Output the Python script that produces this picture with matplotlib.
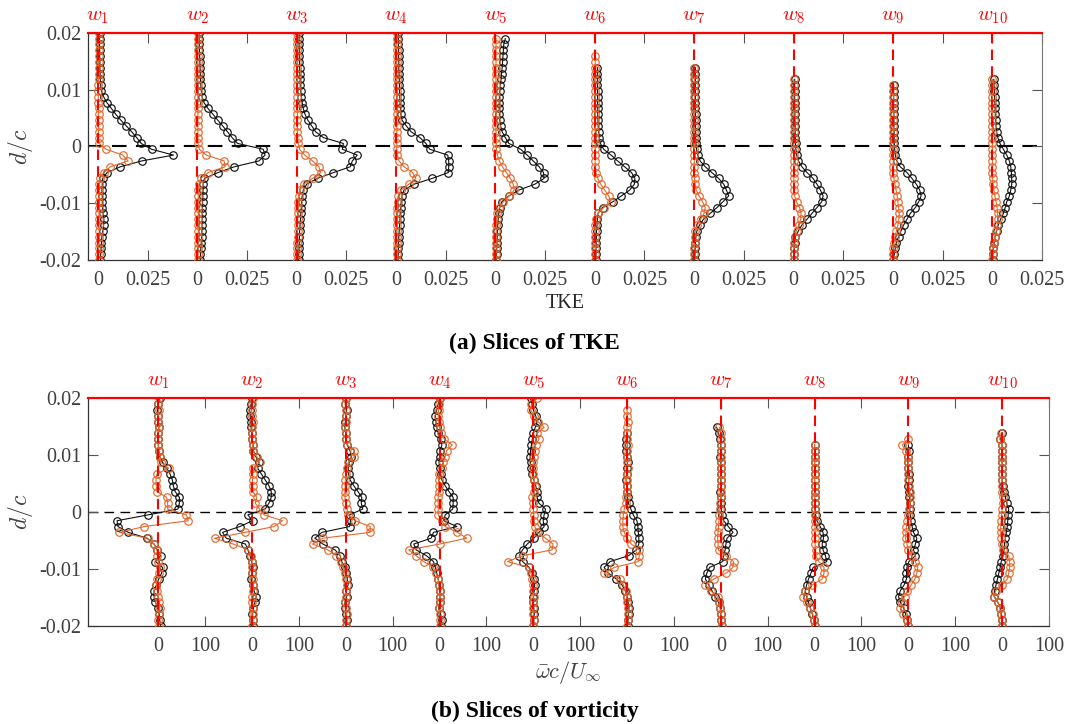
import numpy as np
import matplotlib
matplotlib.use("Agg")
import matplotlib.pyplot as plt

plt.rcParams['font.family'] = ['Liberation Serif', 'DejaVu Serif']
plt.rcParams['mathtext.fontset'] = 'cm'

# wall-normal sampling positions d/c (same grid for every slice, bottom -> top)
d_grid = np.linspace(-0.02, 0.02, 40)

station_labels = [r'$w_{%d}$' % i for i in range(1, 11)]

# TKE profiles, in units of 1e-3, listed from d/c = -0.02 upwards
tke_black = [
    [1.3, 1.4, 1.6, 1.8, 2.0, 2.4, 2.9, 3.0, 2.6, 2.3,
     2.2, 2.2, 2.0, 2.2, 2.4, 4.6, 11.3, 22.0, 38.0, 27.0,
     21.8, 19.5, 17.0, 14.3, 11.5, 9.0, 6.8, 4.5, 2.9, 1.8,
     1.4, 1.2, 1.1, 1.0, 1.0, 0.9, 0.9, 0.8, 0.8, 0.8],
    [1.5, 1.6, 1.8, 2.0, 2.2, 2.3, 2.4, 2.5, 2.5, 2.6,
     2.7, 2.8, 2.9, 3.0, 3.6, 10.4, 18.7, 31.0, 34.1, 33.2,
     20.3, 17.5, 15.2, 12.8, 10.3, 7.9, 5.4, 3.4, 2.4, 2.0,
     1.8, 1.6, 1.5, 1.4, 1.3, 1.2, 1.1, 1.0, 0.9, 0.9],
    [1.0, 1.1, 1.2, 1.3, 1.4, 1.5, 1.7, 1.9, 2.1, 2.3,
     2.5, 2.8, 3.3, 5.0, 10.5, 18.5, 27.0, 28.0, 30.5, 23.0,
     23.5, 13.5, 9.5, 7.6, 5.6, 4.2, 3.3, 2.8, 2.4, 2.0,
     1.8, 1.7, 1.6, 1.5, 1.4, 1.3, 1.3, 1.2, 1.2, 1.2],
    [1.0, 1.1, 1.2, 1.3, 1.4, 1.6, 1.8, 2.0, 2.1, 2.3,
     2.6, 3.0, 4.0, 9.0, 18.2, 26.3, 26.5, 26.5, 26.0, 17.0,
     15.0, 12.0, 7.6, 5.2, 3.0, 2.4, 2.2, 2.0, 1.9, 1.8,
     1.7, 1.6, 1.5, 1.4, 1.4, 1.3, 1.3, 1.2, 1.2, 1.2],
    [0.5, 0.6, 0.7, 0.8, 0.9, 1.0, 1.2, 1.4, 1.7, 2.2,
     3.2, 6.8, 11.8, 19.8, 24.5, 24.2, 22.0, 19.0, 16.0, 12.7,
     6.8, 5.0, 3.4, 2.6, 2.2, 2.0, 1.9, 1.9, 2.0, 2.2,
     2.5, 2.8, 3.1, 3.4, 3.6, 3.8, 4.0, 4.2, 5.0],
    [0.5, 0.6, 0.6, 0.7, 0.8, 0.9, 1.1, 1.3, 1.6, 3.9,
     9.1, 13.4, 17.6, 19.9, 20.2, 18.5, 15.0, 11.5, 8.2, 4.5,
     2.8, 2.2, 1.9, 1.7, 1.6, 1.5, 1.5, 1.4, 1.4, 1.4,
     1.3, 1.3, 1.3, 1.3],
    [0.3, 0.4, 0.5, 0.6, 0.9, 1.4, 2.7, 4.7, 8.1, 11.5,
     14.5, 17.4, 16.2, 14.9, 12.3, 8.9, 5.6, 3.0, 1.8, 1.2,
     0.9, 0.8, 0.8, 0.7, 0.7, 0.7, 0.6, 0.6, 0.6, 0.6,
     0.6, 0.6, 0.6, 0.6],
    [0.3, 0.3, 0.4, 0.6, 0.9, 2.5, 4.2, 6.8, 9.3, 11.8,
     14.2, 14.9, 13.5, 11.8, 9.8, 6.8, 4.2, 2.5, 1.6, 1.2,
     1.0, 0.9, 0.8, 0.8, 0.7, 0.7, 0.7, 0.6, 0.6, 0.6,
     0.6, 0.6],
    [0.3, 0.7, 1.2, 1.7, 2.9, 4.1, 5.4, 7.1, 8.8, 11.3,
     13.0, 14.2, 13.5, 11.8, 9.6, 7.1, 3.7, 2.0, 1.2, 0.9,
     0.7, 0.6, 0.6, 0.5, 0.5, 0.5, 0.4, 0.4, 0.4, 0.4,
     0.4],
    [0.2, 0.3, 0.5, 1.0, 1.4, 2.2, 3.0, 4.2, 5.6, 6.5,
     7.3, 8.6, 9.3, 9.8, 9.8, 9.6, 9.3, 8.6, 7.3, 5.6,
     3.9, 2.8, 2.2, 1.9, 1.7, 1.5, 1.4, 1.3, 1.2, 1.0,
     0.9, 0.8],
]

tke_orange = [
    [0.4, 0.4, 0.5, 0.5, 0.5, 0.6, 0.6, 0.6, 0.6, 0.6,
     0.5, 0.5, 0.5, 0.6, 1.0, 2.9, 6.3, 15.2, 12.5, 4.1,
     0.6, 0.3, 0.3, 0.3, 0.3, 0.3, 0.3, 0.2, 0.2, 0.2,
     0.2, 0.3, 0.3, 0.3, 0.3, 0.3, 0.3, 0.3, 0.3, 0.3],
    [0.4, 0.4, 0.4, 0.5, 0.5, 0.5, 0.5, 0.5, 0.5, 0.5,
     0.5, 0.5, 0.6, 0.8, 1.8, 5.5, 14.0, 13.5, 4.5, 1.0,
     0.4, 0.3, 0.3, 0.3, 0.3, 0.3, 0.3, 0.3, 0.3, 0.3,
     0.3, 0.3, 0.3, 0.3, 0.3, 0.3, 0.3, 0.3, 0.3, 0.3],
    [0.4, 0.4, 0.4, 0.4, 0.5, 0.5, 0.5, 0.5, 0.6, 0.7,
     0.8, 1.0, 1.5, 3.5, 8.0, 12.0, 11.2, 8.0, 4.0, 1.5,
     0.8, 0.5, 0.4, 0.4, 0.4, 0.4, 0.4, 0.4, 0.4, 0.4,
     0.4, 0.4, 0.4, 0.4, 0.4, 0.4, 0.4, 0.4, 0.4, 0.4],
    [0.4, 0.4, 0.4, 0.4, 0.5, 0.5, 0.5, 0.5, 0.6, 0.7,
     0.8, 1.0, 2.5, 6.5, 10.0, 8.3, 4.0, 1.5, 0.6, 0.4,
     0.4, 0.4, 0.4, 0.4, 0.4, 0.4, 0.4, 0.4, 0.4, 0.4,
     0.4, 0.4, 0.4, 0.4, 0.4, 0.4, 0.4, 0.4, 0.4, 0.4],
    [0.3, 0.3, 0.3, 0.4, 0.4, 0.4, 0.5, 0.6, 1.0, 2.0,
     4.0, 7.0, 9.5, 9.0, 7.5, 5.5, 3.5, 2.0, 1.0, 0.5,
     0.4, 0.4, 0.3, 0.3, 0.3, 0.3, 0.3, 0.3, 0.3, 0.3,
     0.3, 0.3, 0.3, 0.3, 0.3, 0.3, 0.3, 0.3, 0.3],
    [0.2, 0.2, 0.2, 0.2, 0.2, 0.3, 0.3, 0.6, 1.5, 4.5,
     8.0, 7.0, 5.0, 3.0, 1.5, 0.6, 0.3, 0.2, 0.2, 0.2,
     0.2, 0.2, 0.2, 0.2, 0.2, 0.2, 0.2, 0.2, 0.2, 0.2,
     0.2, 0.2, 0.2, 0.2, 0.2, 0.2],
    [0.1, 0.1, 0.1, 0.2, 0.3, 0.6, 1.6, 3.2, 5.0, 5.6,
     4.2, 2.5, 1.0, 0.5, 0.2, 0.1, 0.1, 0.1, 0.1, 0.1,
     0.1, 0.1, 0.1, 0.1, 0.1, 0.1, 0.1, 0.1, 0.1, 0.1,
     0.1, 0.1, 0.1, 0.1],
    [0.1, 0.1, 0.2, 0.3, 0.6, 1.5, 2.6, 3.6, 3.8, 3.0,
     1.5, 0.5, 0.2, 0.1, 0.1, 0.1, 0.1, 0.1, 0.1, 0.1,
     0.1, 0.1, 0.1, 0.1, 0.1, 0.1, 0.1, 0.1, 0.1, 0.1,
     0.1, 0.1],
    [0.2, 0.2, 0.3, 0.5, 1.0, 1.8, 2.5, 3.0, 3.2, 2.9,
     2.5, 2.1, 1.6, 1.0, 0.5, 0.3, 0.2, 0.2, 0.2, 0.2,
     0.2, 0.2, 0.2, 0.2, 0.2, 0.2, 0.2, 0.2, 0.2, 0.2,
     0.2],
    [0.1, 0.2, 0.4, 0.8, 1.4, 2.0, 2.5, 2.8, 2.7, 2.4,
     1.9, 1.3, 0.8, 0.4, 0.2, 0.1, 0.1, 0.1, 0.1, 0.1,
     0.1, 0.1, 0.1, 0.1, 0.1, 0.1, 0.1, 0.1, 0.1, 0.1,
     0.1, 0.1],
]

# normalised vorticity profiles, listed from d/c = -0.02 upwards
vort_black = [
    [5, 3, 2, -1, -6, -9, -9, -4, 1, 7,
     9, -6, 5, -2, -9, -24, -64, -86, -88, -22,
     42, 45, 45, 36, 32, 30, 25, 18, 9, 3,
     1, 0, -1, 0, 1, 0, -1, -2, 0, 3],
    [2, 1, 0, 3, 6, 9, 4, 1, -2, 0,
     2, -1, -4, -9, -14, -55, -63, -26, 1, -9,
     28, 36, 41, 41, 36, 28, 20, 12, 15, 8,
     3, 2, 0, -1, -2, -3, -4, -5, -2, 0],
    [1, 2, 0, -1, -2, 2, 0, 5, 3, 0,
     -2, -9, -12, -23, -49, -66, -51, 8, 10, 8,
     36, 33, 34, 26, 17, 9, 6, 5, 7, 12,
     9, 3, 1, 0, -2, -1, 0, 2, -1, 0],
    [3, 5, 2, -2, 0, 1, 0, -1, -3, -6,
     -9, -13, -28, -50, -55, -18, -13, 37, 9, 12,
     28, 29, 29, 20, 12, 5, 2, 0, -1, 0,
     1, 5, 2, -3, -6, -8, -9, -6, -3, 0],
    [0, 1, 2, 1, -1, 0, 2, 3, 1, -2,
     -9, -23, -30, -23, -13, 1, 12, 23, 21, 23,
     26, 12, 8, 8, 5, 1, -2, -6, -6, -7,
     -6, -4, -2, 0, 4, 8, 5, 0, -3, -6],
    [1, 2, 3, 4, 2, 0, -4, -11, -23, -40,
     -49, -36, 3, 20, 25, 25, 24, 23, 21, 13,
     8, 3, 1, 0, -1, -2, -1, 0, 1, -1,
     -2, -3, -2, 0],
    [2, 1, 0, -1, -5, -12, -19, -26, -33, -30,
     -24, 4, 6, 9, 11, 13, 26, 16, 6, 2,
     1, 0, 0, -1, 0, 0, 1, 0, 0, -1,
     0, 0, -1, -5, -9],
    [0, -2, -5, -9, -13, -17, -20, -17, -13, -8,
     -3, 26, 23, 18, 16, 19, 18, 12, 5, 2,
     1, 1, 0, 0, 0, 0, 0, 0, 0, 0,
     0, 0],
    [0, -2, -6, -10, -17, -21, -17, -9, -4, -4,
     -3, 1, 15, 11, 15, 18, 11, 8, 5, 4,
     3, 4, 2, 1, 0, 1, 2, 0, -1, 0,
     1, 0],
    [0, -1, -2, -4, -9, -17, -16, -13, -10, -7,
     -4, -2, 2, 4, 5, 7, 9, 11, 12, 13,
     14, 10, 7, 3, 1, 0, 0, 0, 0, 0,
     0, 0, -4, 0],
]

vort_orange = [
    [1, 0, 1, 3, 2, 0, -2, -4, -3, 1,
     3, 0, -2, -3, -9, -23, -83, -30, 64, 60,
     20, 20, 18, -3, -4, -5, -3, 22, 5, 4,
     1, 0, -1, 0, 1, 0, -1, 1, 0, 2],
    [0, 1, 2, 1, 0, -1, 2, 3, 1, 0,
     -1, 0, -2, -8, -40, -80, -15, 47, 65, 26,
     16, 7, 10, 2, 1, 1, 1, 3, 16, 10,
     2, 1, 0, -1, 0, 1, 0, -1, 0, 1],
    [0, 1, 2, 0, -1, 0, 1, 2, 0, -2,
     -5, -10, -20, -38, -71, -49, 52, 52, 20, 5,
     3, 0, -2, -2, -1, -1, 0, 2, 5, 18,
     18, 3, 1, 0, -1, 0, 1, 0, -1, 0],
    [0, 1, 0, -1, 0, 1, 0, -1, -3, -8,
     -13, -34, -50, -66, 0, 58, 38, 12, 5, -3,
     -3, -3, -3, -2, -2, -2, -1, 5, 8, 12,
     15, 27, 10, 2, 0, -2, -3, -2, -1, 0],
    [0, 1, 0, -1, 0, 1, 0, -1, -2, -5,
     -10, -55, -23, 40, 42, 26, 8, 3, 2, 1,
     0, -1, -2, 2, 3, 2, 0, -1, 0, 1,
     3, 5, 12, 8, 23, 10, 2, -6, -4, 8],
    [0, 1, 2, 1, 0, -1, -3, -8, -15, -49,
     -27, 24, 26, 26, 9, 0, -6, -9, -9, -8,
     -6, -3, -2, -1, 0, -1, 0, 1, 0, -1,
     0, 1, 0, -1, 0, 1, 0, 0],
    [2, 1, 0, -1, -3, -7, -22, -33, -15, 11,
     26, 27, 10, -5, -6, -7, -6, -5, -4, -3,
     -2, -1, 0, 0, 0, 1, 0, 0, 1, 0,
     0, 1, 0, 0, -3],
    [0, -2, -4, -9, -17, -24, -20, -5, 16, 20,
     20, 9, 3, 2, 1, 1, 1, 1, 0, 0,
     0, 0, 0, 0, 0, 0, 0, 0, 0, 0,
     0, 0],
    [0, -3, -11, -17, -14, -8, -2, 6, 14, 18,
     20, 15, 6, 0, -3, -6, -5, -4, -2, 0,
     2, 4, 4, 3, 1, 0, 0, 0, 0, 0,
     -6, -13, 0],
    [0, -1, -3, -5, -9, -17, -14, 0, 11, 14,
     16, 16, 14, 2, 0, -2, -3, -3, -2, -1,
     0, 1, 1, 0, 0, 0, 0, 0, 0, 0,
     0, 0, -5, -2],
]

ORANGE = '#E2692F'
TICK_GREY = '#404040'


def draw_slices(ax, black, orange, scale, spacing, half, left, half_text, zero_lw):
    n = len(black)
    for i in range(n):
        x0 = i * spacing
        xb = x0 + np.asarray(black[i], dtype=float) * scale
        xo = x0 + np.asarray(orange[i], dtype=float) * scale
        ax.plot(xb, d_grid[:len(xb)], color='#111111', lw=0.8, marker='o',
                ms=5.4, mfc='none', mew=0.85, zorder=2)
        ax.plot(xo, d_grid[:len(xo)], color=ORANGE, lw=0.8, marker='o',
                ms=5.4, mfc='none', mew=0.85, zorder=3)
        # station reference line
        ax.plot([x0, x0], [-0.02, 0.02], color='red', lw=1.5,
                ls=(0, (5, 3)), zorder=4)
        ax.annotate(station_labels[i], xy=(x0, 0.02), xytext=(0, 5),
                    textcoords='offset points', ha='center', va='bottom',
                    color='red', fontsize=15, annotation_clip=False)

    ax.axhline(0, color='k', lw=zero_lw, ls=(0, (7, 4.5)), zorder=1)
    ax.axhline(0.02, color='red', lw=1.6, clip_on=False, zorder=5)

    ax.set_xlim(left, (n - 1) * spacing + half)
    ax.set_ylim(-0.02, 0.02)
    ticks = []
    labels = []
    for i in range(n):
        ticks += [i * spacing, i * spacing + half]
        labels += ['0', half_text]
    ax.set_xticks(ticks)
    ax.set_xticklabels(labels)
    ax.set_yticks([-0.02, -0.01, 0, 0.01, 0.02])
    ax.set_yticklabels(['-0.02', '-0.01', '0', '0.01', '0.02'])

    ax.tick_params(direction='in', length=7, width=0.8, color='#555555',
                   labelcolor=TICK_GREY, labelsize=14.5, top=True, right=True)
    ax.tick_params(axis='x', pad=8)
    ax.tick_params(axis='y', pad=5)
    for side in ['left', 'bottom']:
        ax.spines[side].set_color('#333333')
        ax.spines[side].set_linewidth(0.9)
    ax.spines['right'].set_color('#777777')
    ax.spines['top'].set_visible(False)
    ax.set_ylabel(r'$d/c$', fontsize=17, color=TICK_GREY, labelpad=3)


fig = plt.figure(figsize=(10.69, 7.24), dpi=100)
ax_tke = fig.add_axes([0.0823, 0.6409, 0.8924, 0.3139])
ax_vort = fig.add_axes([0.0823, 0.1358, 0.8990, 0.3141])

draw_slices(ax_tke, tke_black, tke_orange, 1e-3, 0.05, 0.025, -0.005, '0.025', 1.5)
ax_tke.set_xlabel('TKE', fontsize=14.5, color='#262626', labelpad=3)

draw_slices(ax_vort, vort_black, vort_orange, 1.0, 200, 100, -150, '100', 1.0)
ax_vort.set_xlabel(r'$\bar{\omega}c/U_\infty$', fontsize=16, color=TICK_GREY, labelpad=2)

fig.text(0.5, 1 - 343 / 724, '(a) Slices of TKE', ha='center', va='center',
         fontsize=17, fontweight='bold')
fig.text(0.5, 1 - 711 / 724, '(b) Slices of vorticity', ha='center', va='center',
         fontsize=17, fontweight='bold')

fig.savefig('out.png', dpi=100)
